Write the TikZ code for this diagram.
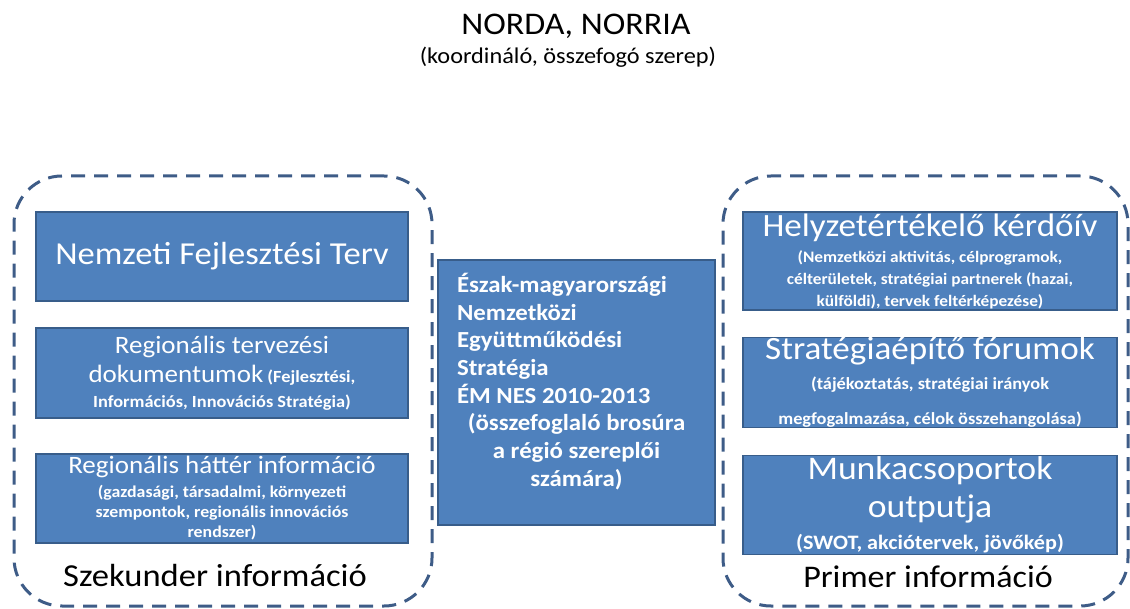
\documentclass[tikz,border=0pt]{standalone}
\usepackage{fontspec}
\setmainfont[FakeStretch=1.08]{Carlito}
\definecolor{boxfill}{HTML}{4F81BD}
\definecolor{boxline}{HTML}{385D8A}
\definecolor{dashc}{HTML}{3E5C87}
\newcommand\myfs[2]{\fontsize{#1}{#2}\selectfont}
\begin{document}
\begin{tikzpicture}[x=1pt,y=-1pt,
  group/.style={draw=dashc, line width=3pt, dash pattern=on 14pt off 9pt, rounded corners=48pt, inner sep=0pt},
  blue/.style={draw=boxline, line width=1.3pt, fill=boxfill, text=white, align=center, inner sep=0pt},
  plain/.style={inner sep=0pt, text=black}
]
\useasboundingbox (0,0) rectangle (1130,609);
% titles
\node[plain, font=\myfs{31.5}{36}] (title) at (576,26) {NORDA, NORRIA};
\node[plain, font=\myfs{22.5}{25}] (subtitle) at (568,57) {(koordináló, összefogó szerep)};
% dashed groups
\node[group, minimum width=418pt, minimum height=430pt] (gl) at (223,391) {};
\node[group, minimum width=405pt, minimum height=430pt] (gr) at (925.5,391) {};
% left boxes
\node[blue, minimum width=372pt, minimum height=89pt, font=\myfs{32}{36}] (nft) at (222,256.5) {Nemzeti Fejlesztési Terv};
\node[blue, minimum width=372pt, minimum height=90pt, font=\bfseries\myfs{17}{25}] (rtd) at (222,373)
  {{\mdseries\myfs{25}{25}Regionális tervezési}\\[4pt]
   {\mdseries\myfs{25}{25}dokumentumok} (Fejlesztési,\\
   Információs, Innovációs Stratégia)};
\node[blue, minimum width=372pt, minimum height=89pt, font=\bfseries\myfs{16.5}{20}] (rhi) at (222,498.5)
  {{\mdseries\myfs{25}{25}Regionális háttér információ}\\[4pt]
   (gazdasági, társadalmi, környezeti\\
   szempontok, regionális innovációs\\
   rendszer)};
\node[plain, font=\myfs{32}{34}] (szek) at (215,576) {Szekunder információ};
% centre box
\node[blue, minimum width=277pt, minimum height=265pt] (nes) at (576.5,392.5)
  {\parbox{239pt}{\bfseries\myfs{23}{27.7}\raggedright
   Észak-magyarországi\\
   Nemzetközi\\
   Együttműködési\\
   Stratégia\\
   ÉM NES 2010-2013\par
   \centering
   (összefoglaló brosúra\\
   a régió szereplői\\
   számára)\par\vspace*{22pt}}};
% right boxes
\node[blue, minimum width=374pt, minimum height=98pt, font=\bfseries\myfs{16}{22}] (hk) at (930,261)
  {{\mdseries\myfs{32.5}{34}Helyzetértékelő kérdőív}\\[4pt]
   (Nemzetközi aktivitás, célprogramok,\\
   célterületek, stratégiai partnerek (hazai,\\
   külföldi), tervek feltérképezése)};
\node[blue, minimum width=374pt, minimum height=89pt, font=\bfseries\myfs{17}{30}] (sf) at (930,382.5)
  {{\mdseries\myfs{32.5}{34}Stratégiaépítő fórumok}\\
   (tájékoztatás, stratégiai irányok\\[5pt]
   megfogalmazása, célok összehangolása)};
\node[blue, minimum width=374pt, minimum height=99pt, font=\bfseries\myfs{20.5}{32}] (mo) at (930,505)
  {{\mdseries\myfs{33}{34}Munkacsoportok}\\[6pt]
   {\mdseries\myfs{33}{34}outputja}\\
   (SWOT, akciótervek, jövőkép)};
\node[plain, font=\myfs{31.5}{32}] (prim) at (928,577) {Primer információ};
\end{tikzpicture}
\end{document}
